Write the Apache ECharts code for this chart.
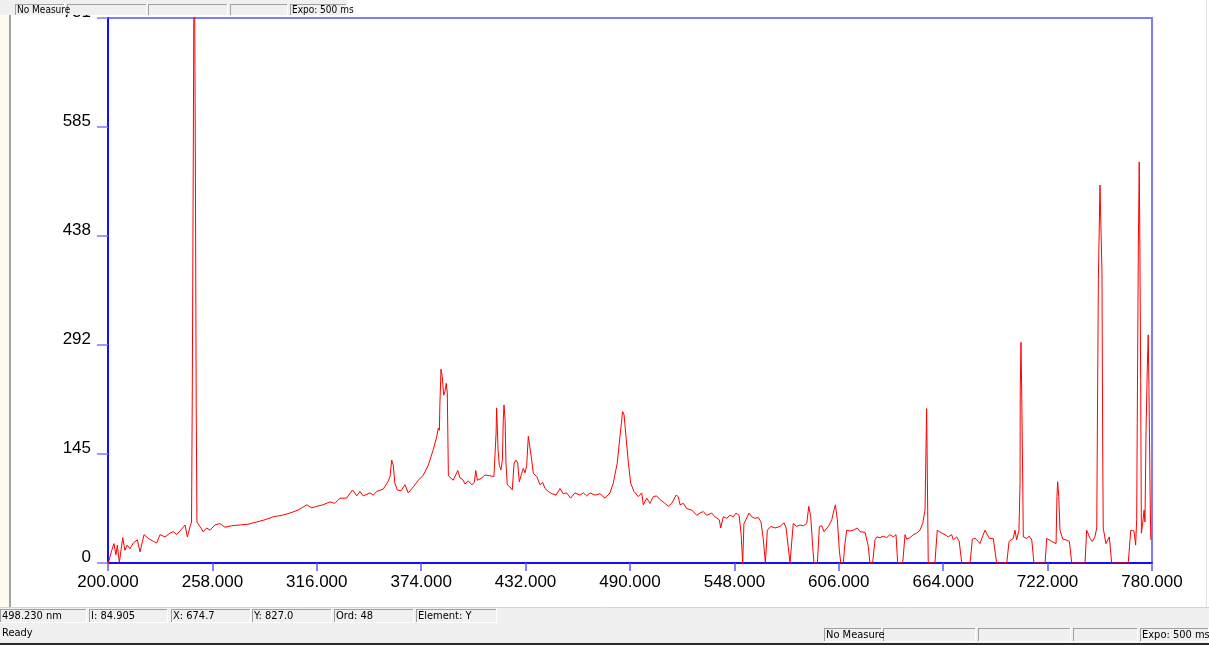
<!DOCTYPE html>
<html>
<head>
<meta charset="utf-8">
<script src="https://cdn.jsdelivr.net/npm/echarts@6/dist/echarts.min.js"></script>
<style>
  html, body { margin: 0; padding: 0; background: #ffffff; }
  #chart { width: 1209px; height: 645px; }
</style>
</head>
<body>
<div id="chart"></div>
<script>
// Emission spectrum: wavelength (nm) and detector intensity (counts)
const wavelengthNm = [
  200.2, 202.1, 203.3, 204.4, 205.2, 206.3, 208.2, 209.4, 210.7, 212.2,
  214.1, 216.3, 217.8, 220.0, 222.4, 225.2, 227.1, 228.9, 231.7, 234.4,
  236.3, 238.2, 240.0, 242.8, 244.1, 245.6, 246.4,
  246.8, 247.4, 247.9, 248.5, 249.0, 249.4,
  250.2, 251.1, 252.9, 254.8, 256.7, 259.4, 262.2, 265.0, 268.7, 273.3,
  277.8, 282.6, 287.2, 291.8, 296.7, 301.1, 305.6, 310.4, 313.3, 315.9,
  319.4, 323.3, 326.1, 328.9,
  332.6, 335.9, 338.2, 340.0, 341.8, 345.6, 347.4, 349.3, 352.9, 355.7,
  356.7, 357.6, 358.5, 359.4, 360.7, 362.8, 365.0, 366.8, 369.6, 372.4,
  375.2, 377.9, 380.7, 382.6, 383.5, 384.1, 384.4, 385.0, 385.7, 386.5,
  387.2, 387.9, 388.5, 389.1, 391.8, 394.3, 395.6, 397.1, 398.3, 400.2,
  402.1, 403.5, 404.3, 405.2, 407.6, 409.4, 412.2, 414.4, 415.6, 415.9,
  416.7, 417.4, 418.3, 419.1, 419.6, 420.0, 420.6, 421.1, 421.8, 423.3,
  424.6, 425.6, 426.7, 427.6, 428.5, 429.8, 430.7, 431.7, 432.6, 433.5,
  434.4, 435.4, 436.3, 438.2, 440.0, 441.5, 442.8, 444.6, 446.5, 448.9,
  451.1, 452.9, 454.8, 457.0, 459.4, 462.2, 464.1, 465.9, 467.8, 470.6,
  473.3, 476.1, 478.9, 480.7, 481.7, 482.9, 484.4, 485.9, 486.7, 487.8,
  489.1, 490.4, 492.2, 494.6, 496.5, 497.4, 499.3, 501.1, 502.9, 504.8,
  506.7, 509.4, 511.3, 513.2, 515.6, 516.8, 517.8,
  519.6, 521.5, 524.3, 527.1, 528.9, 530.7, 532.6, 535.4, 537.2, 539.6,
  540.4, 541.8, 543.7, 545.6, 547.4, 548.9, 550.6, 551.7, 552.6, 553.3,
  554.4, 556.1, 557.6, 559.4, 561.3, 562.8, 564.1, 565.2, 566.3, 568.2,
  570.6, 573.3, 575.6, 576.7, 577.9, 578.9, 579.8, 580.7, 582.6, 584.4,
  586.3, 588.2, 589.3, 590.4, 591.5, 592.2, 594.1, 595.2, 596.5, 597.8,
  600.2, 602.1, 603.3, 604.1, 605.2, 606.3, 607.1, 608.5, 609.4, 610.4,
  612.2, 614.1, 616.3, 617.8, 620.6, 622.4, 623.3, 624.8, 626.1, 627.1,
  628.9, 630.7, 632.6, 634.4, 636.3, 637.8, 638.7, 641.5, 642.8, 643.7,
  645.6, 647.4, 649.3, 651.1, 652.6, 653.9, 654.8, 655.7, 659.4, 660.7,
  661.8, 663.2, 665.0, 666.8, 668.7, 669.6, 671.5, 672.9, 674.3, 678.9,
  680.2, 681.7, 683.5, 684.4,
  687.2, 689.6, 691.8, 693.7, 699.3, 700.6, 702.9, 703.9, 704.8, 706.1,
  706.7, 706.8, 707.2, 707.6, 708.2, 708.5, 710.4, 711.8, 713.2, 714.4,
  720.6, 721.5, 724.3, 726.7, 727.2, 727.6, 728.2, 728.9, 730.4, 732.2,
  734.1, 735.4, 742.8, 743.7, 745.6, 746.8, 748.3, 749.3, 749.6, 750.2,
  751.1, 751.7, 752.2, 752.6, 752.9, 754.4, 756.3, 757.6, 766.8, 768.2,
  770.0, 770.9, 771.5, 771.8, 772.4, 772.9, 773.3, 773.7, 774.1, 774.8,
  775.6, 776.1, 776.7, 777.4, 777.9, 778.3, 778.9, 779.3, 779.4
];

const intensityCounts = [
  0, 17, 26, 11, 24, 1, 34, 17, 24, 19,
  27, 31, 15, 38, 33, 29, 27, 38, 35, 40,
  42, 38, 43, 51, 35, 49, 55,
  217, 558, 900, 558, 217, 55,
  54, 49, 42, 47, 44, 51, 53, 48, 50, 51,
  52, 55, 58, 62, 64, 67, 71, 78, 74, 76,
  78, 82, 80, 87,
  87, 98, 90, 96, 90, 94, 91, 96, 99, 110,
  116, 138, 131, 107, 98, 97, 105, 94, 102, 111,
  118, 131, 152, 169, 181, 178, 214, 260, 250, 225,
  230, 241, 228, 117, 111, 124, 114, 112, 106, 110,
  105, 108, 124, 111, 114, 118, 117, 116, 174, 208,
  152, 131, 125, 138, 192, 212, 192, 134, 105, 102,
  98, 134, 138, 134, 109, 120, 127, 121, 131, 170,
  169, 138, 120, 116, 105, 108, 100, 96, 93, 91,
  100, 93, 94, 87, 94, 91, 94, 90, 94, 91,
  93, 87, 94, 107, 105, 134, 169, 203, 199, 169,
  134, 107, 96, 89, 94, 78, 87, 80, 89, 90,
  85, 80, 76, 80, 91, 89, 78,
  80, 73, 71, 64, 67, 69, 64, 67, 62, 58,
  47, 62, 60, 64, 62, 67, 64, 40, 0, 53,
  58, 67, 62, 60, 61, 55, 31, 0, 44, 49,
  47, 49, 54, 47, 22, 0, 0, 53, 49, 51,
  50, 53, 76, 62, 22, 0, 0, 49, 50, 42,
  49, 58, 71, 78, 58, 17, 0, 0, 26, 44,
  43, 44, 47, 42, 41, 22, 0, 0, 31, 35,
  34, 36, 34, 38, 35, 38, 0, 0, 38, 32,
  34, 38, 40, 44, 53, 71, 207, 0, 0, 44,
  45, 40, 38, 35, 38, 31, 35, 29, 0, 0,
  32, 33, 29, 26,
  44, 33, 33, 0, 0, 29, 33, 44, 31, 44,
  107, 232, 296, 232, 107, 35, 33, 36, 31, 0,
  0, 33, 29, 26, 89, 109, 89, 44, 32, 31,
  29, 0, 0, 44, 33, 29, 35, 47, 161, 380,
  507, 507, 391, 161, 47, 26, 35, 0, 0, 44,
  43, 24, 58, 187, 420, 538, 415, 245, 40, 53,
  71, 55, 178, 263, 306, 237, 102, 33, 31
];

// Intensity axis tick labels as printed by the acquisition software
const yTickLabels = ['0', '145', '292', '438', '585', '731'];

// Status bar contents
const topStatusFields = ['No Measure', '', '', '', 'Expo: 500 ms'];
const readoutFields = ['498.230 nm', 'I: 84.905', 'X: 674.7', 'Y: 827.0', 'Ord: 48', 'Element: Y'];
const bottomStatusFields = ['No Measure', '', '', '', 'Expo: 500 ms'];
const statusMessage = 'Ready';

const AXIS_FONT = "'Liberation Sans', Arial, sans-serif";
const UI_FONT = "11px 'Liberation Sans Narrow', 'DejaVu Sans Condensed', 'Liberation Sans', sans-serif";
const UI_FONT_SMALL = "10px 'Liberation Sans Narrow', 'DejaVu Sans Condensed', 'Liberation Sans', sans-serif";

// Sunken status-bar panel: grey top/left edge, white bottom/right edge
function panel(x, y, w, h, text, showBottom, font) {
  const els = [
    { type: 'rect', z: 100, shape: { x: x, y: y, width: w, height: h }, style: { fill: '#f0f0f0' } },
    { type: 'line', z: 101, shape: { x1: x + 0.5, y1: y + h, x2: x + 0.5, y2: y + 0.5 }, style: { stroke: '#a0a0a0', lineWidth: 1 } },
    { type: 'line', z: 101, shape: { x1: x, y1: y + 0.5, x2: x + w, y2: y + 0.5 }, style: { stroke: '#a0a0a0', lineWidth: 1 } },
    { type: 'line', z: 101, shape: { x1: x + w - 0.5, y1: y, x2: x + w - 0.5, y2: y + h }, style: { stroke: '#ffffff', lineWidth: 1 } }
  ];
  if (showBottom) {
    els.push({ type: 'line', z: 101, shape: { x1: x, y1: y + h - 0.5, x2: x + w, y2: y + h - 0.5 }, style: { stroke: '#ffffff', lineWidth: 1 } });
  }
  if (text) {
    els.push({ type: 'text', z: 102, style: { x: x + 2, y: y + h / 2 + 0.5, text: text, font: font, fill: '#000000', align: 'left', verticalAlign: 'middle' } });
  }
  return els;
}

const topBoxX = [15, 67, 148, 230, 290];
const topBoxW = [50, 80, 80, 58, 57];
const readBoxX = [0, 89, 171, 252, 334, 416];
const readBoxW = [87, 79, 80, 80, 80, 81];
const botBoxX = [824, 883, 978, 1073, 1140];
const botBoxW = [58, 93, 93, 65, 69];

let graphics = [
  // frame strip on the left
  { type: 'rect', z: 100, shape: { x: 0, y: 0, width: 9, height: 608 }, style: { fill: '#fefcf1' } },
  { type: 'rect', z: 100, shape: { x: 9, y: 15, width: 2, height: 593 }, style: { fill: '#a3a3a3' } },
  { type: 'line', z: 100, shape: { x1: 1206.5, y1: 0, x2: 1206.5, y2: 608 }, style: { stroke: '#e3e3e3', lineWidth: 1 } },
  // top status strip
  { type: 'rect', z: 100, shape: { x: 0, y: 0, width: 348, height: 15 }, style: { fill: '#f0f0f0' } },
  // bottom status bar
  { type: 'rect', z: 100, shape: { x: 0, y: 608, width: 1209, height: 37 }, style: { fill: '#f0f0f0' } },
  { type: 'line', z: 100, shape: { x1: 0, y1: 607.5, x2: 1209, y2: 607.5 }, style: { stroke: '#d4d4d4', lineWidth: 1 } },
  { type: 'rect', z: 100, shape: { x: 0, y: 643, width: 1209, height: 2 }, style: { fill: '#2a2a2a' } },
  { type: 'text', z: 102, style: { x: 2, y: 633, text: statusMessage, font: UI_FONT, fill: '#000000', align: 'left', verticalAlign: 'middle' } }
];
topStatusFields.forEach((t, i) => { graphics = graphics.concat(panel(topBoxX[i], 4, topBoxW[i], 11, t, false, UI_FONT_SMALL)); });
readoutFields.forEach((t, i) => { graphics = graphics.concat(panel(readBoxX[i], 609, readBoxW[i], 14, t, true, UI_FONT)); });
bottomStatusFields.forEach((t, i) => { graphics = graphics.concat(panel(botBoxX[i], 628, botBoxW[i], 14, t, true, UI_FONT)); });

const spectrum = wavelengthNm.map((w, i) => [w, intensityCounts[i]]);

const chart = echarts.init(document.getElementById('chart'), null, { renderer: 'canvas' });
chart.setOption({
  animation: false,
  backgroundColor: '#ffffff',
  grid: {
    left: 108, right: 57, top: 18, bottom: 82,
    show: true, borderColor: '#7c7cff', borderWidth: 2, backgroundColor: '#ffffff'
  },
  xAxis: {
    type: 'value', min: 200, max: 780, interval: 58,
    axisLine: { show: true, onZero: false, lineStyle: { color: '#1010ff', width: 2 } },
    axisTick: { show: true, length: 8, lineStyle: { color: '#5a5aff', width: 1.5 } },
    axisLabel: {
      color: '#000000', fontFamily: AXIS_FONT, fontSize: 17, margin: 11,
      formatter: v => v.toFixed(3)
    },
    splitLine: { show: false }
  },
  yAxis: {
    type: 'value', min: 0, max: 731, interval: 146.2,
    axisLine: { show: true, onZero: false, lineStyle: { color: '#1010ff', width: 2 } },
    axisTick: { show: true, length: 11, lineStyle: { color: '#7c7cff', width: 1.5 } },
    axisLabel: {
      color: '#000000', fontFamily: AXIS_FONT, fontSize: 17, margin: 17,
      verticalAlign: 'bottom', lineHeight: 12,
      formatter: (v, idx) => (yTickLabels[idx] !== undefined ? yTickLabels[idx] : String(Math.round(v)))
    },
    splitLine: { show: false }
  },
  series: [{
    type: 'line',
    data: spectrum,
    symbol: 'none',
    showSymbol: false,
    clip: true,
    lineStyle: { color: '#ff0000', width: 1 },
    z: 3
  }],
  graphic: { elements: graphics }
});
</script>
</body>
</html>
